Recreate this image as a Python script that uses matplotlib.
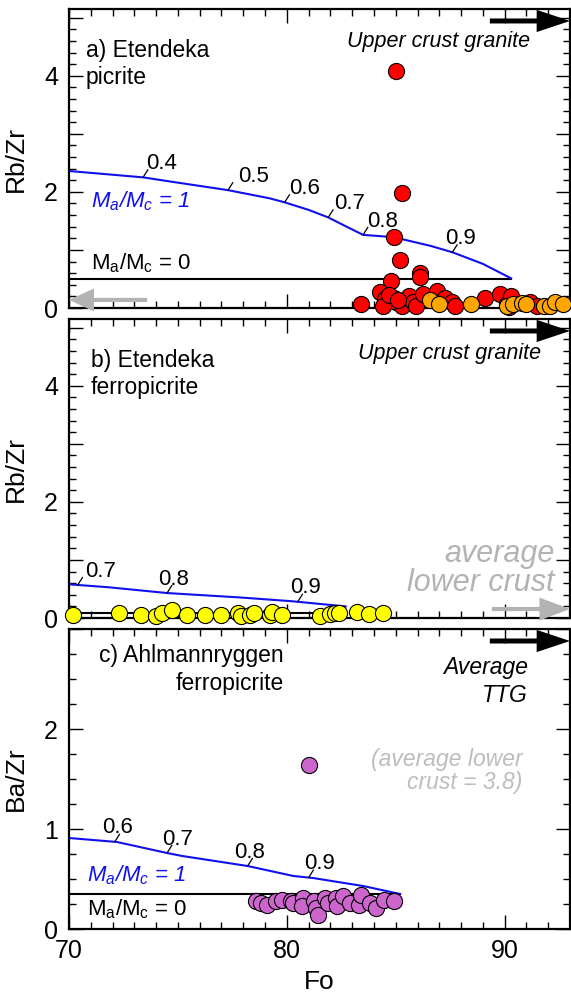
import numpy as np
import matplotlib
matplotlib.use("Agg")
import matplotlib.pyplot as plt
from matplotlib.ticker import MultipleLocator, FuncFormatter

plt.rcParams["font.family"] = "Liberation Sans"
plt.rcParams["mathtext.fontset"] = "custom"
plt.rcParams["mathtext.rm"] = "Liberation Sans"
plt.rcParams["mathtext.it"] = "Liberation Sans:italic"

# ---------------- data ----------------
# a) Etendeka picrite  (Rb/Zr vs Fo)
fo_red_a = [83.4, 85.0, 85.3, 84.9, 85.2, 84.8, 86.1, 86.1, 84.3, 84.5, 84.9, 85.0,
            85.3, 85.6, 85.8, 85.95, 86.25, 86.9, 87.25, 87.6, 87.7, 84.4, 89.1,
            89.8, 90.1, 90.3, 91.15, 90.2, 91.5, 84.7, 85.1]
rbzr_red_a = [0.07, 4.08, 1.98, 1.23, 0.83, 0.47, 0.61, 0.54, 0.27, 0.15, 0.18, 0.10,
              0.04, 0.21, 0.10, 0.04, 0.24, 0.30, 0.18, 0.10, 0.04, 0.04, 0.17,
              0.24, 0.07, 0.21, 0.10, 0.02, 0.04, 0.22, 0.14]
fo_orange_a = [86.55, 87.0, 88.45, 90.1, 90.4, 90.8, 91.0, 91.8, 92.1, 92.3, 92.7]
rbzr_orange_a = [0.13, 0.07, 0.07, 0.04, 0.07, 0.09, 0.07, 0.04, 0.04, 0.10, 0.07]

fo_mix1_a = [70, 73.4, 74.8, 77.3, 79.2, 79.9, 81.0, 81.9, 82.8, 83.5, 84.9,
             86.6, 87.6, 89.0, 90.3]
rbzr_mix1_a = [2.36, 2.25, 2.17, 2.03, 1.89, 1.82, 1.69, 1.56, 1.39, 1.26, 1.22,
               1.07, 0.96, 0.76, 0.51]
fo_mix0_a = [70, 90.3]
rbzr_mix0_a = [0.50, 0.50]
frac_fo_a = [73.4, 77.3, 79.9, 81.9, 83.5, 87.6]
frac_lab_a = ["0.4", "0.5", "0.6", "0.7", "0.8", "0.9"]

# b) Etendeka ferropicrite
fo_yellow_b = [70.2, 72.3, 73.3, 74.0, 74.25, 74.75, 75.4, 76.25, 77.0, 77.75, 77.9,
               78.3, 78.5, 79.25, 79.3, 79.8, 81.5, 82.0, 82.2, 82.4, 83.2, 83.75, 84.4]
rbzr_yellow_b = [0.05, 0.09, 0.06, 0.03, 0.09, 0.13, 0.05, 0.06, 0.05, 0.09, 0.03,
                 0.05, 0.09, 0.06, 0.10, 0.05, 0.03, 0.07, 0.09, 0.09, 0.10, 0.07, 0.09]
fo_mix1_b = [70, 71.8, 74.5, 77.8, 80.2, 82.7]
rbzr_mix1_b = [0.58, 0.53, 0.43, 0.355, 0.29, 0.20]
fo_mix0_b = [70, 82.7]
rbzr_mix0_b = [0.09, 0.09]
frac_fo_b = [70.4, 74.5, 80.5]
frac_lab_b = ["0.7", "0.8", "0.9"]

# c) Ahlmannryggen ferropicrite  (Ba/Zr vs Fo)
fo_purple_c = [81.0, 78.6, 78.8, 79.1, 79.5, 79.8, 80.2, 80.3, 80.75, 80.7, 81.25,
               81.35, 81.45, 81.75, 81.9, 82.25, 82.3, 82.6, 82.9, 83.3, 83.4, 83.8,
               84.1, 84.45, 84.9]
bazr_purple_c = [1.64, 0.28, 0.26, 0.24, 0.28, 0.29, 0.28, 0.26, 0.31, 0.23, 0.28,
                 0.21, 0.14, 0.31, 0.26, 0.31, 0.23, 0.33, 0.26, 0.24, 0.34, 0.26,
                 0.21, 0.29, 0.28]
fo_mix1_c = [70, 72.2, 74.5, 75.2, 78.2, 80.3, 81.2, 83.5, 85.2]
bazr_mix1_c = [0.91, 0.87, 0.76, 0.73, 0.63, 0.53, 0.51, 0.43, 0.35]
fo_mix0_c = [70, 85.2]
bazr_mix0_c = [0.35, 0.35]
frac_fo_c = [72.1, 74.5, 78.2, 81.0]
frac_lab_c = ["0.6", "0.7", "0.8", "0.9"]

# horizontal text shift of each fraction label from its leader (points)
lab_dx_a = [12, 17, 13, 14, 13, 5]
lab_dx_b = [15, 4, 5]
lab_dx_c = [2, 7, 1, 7]

# ---------------- figure ----------------
fig = plt.figure(figsize=(5.71, 9.96), dpi=100)
L, W = 69 / 571, 501 / 571
ax_a = fig.add_axes([L, 1 - 308 / 996, W, 299 / 996])
ax_b = fig.add_axes([L, 1 - 618 / 996, W, 299 / 996])
ax_c = fig.add_axes([L, 1 - 929 / 996, W, 300 / 996])

blue = "#1010ee"
gray = "#b3b3b3"
msize = 135


def even_only(v, pos):
    return f"{v:.0f}" if abs(v) % 2 < 1e-6 and v < 5 else ""


def upto_two(v, pos):
    return f"{v:.0f}" if v < 2.5 else ""


def style_axis(ax, ymax, ymajor, yminor, fmt):
    ax.set_xlim(70, 93)
    ax.set_ylim(0, ymax)
    ax.xaxis.set_major_locator(MultipleLocator(10))
    ax.xaxis.set_minor_locator(MultipleLocator(1))
    ax.yaxis.set_major_locator(MultipleLocator(ymajor))
    ax.yaxis.set_minor_locator(MultipleLocator(yminor))
    ax.yaxis.set_major_formatter(FuncFormatter(fmt))
    ax.tick_params(which="both", direction="in", top=True, right=True, width=1.0,
                   labelsize=18)
    ax.tick_params(which="major", length=10)
    ax.tick_params(which="minor", length=5)
    ax.tick_params(axis="y", pad=8)
    ax.tick_params(axis="x", pad=7)
    for s in ax.spines.values():
        s.set_linewidth(1.6)


def fractions(ax, fo_curve, y_curve, fo_lab, labels, dxs):
    for f, lab, dx in zip(fo_lab, labels, dxs):
        yv = np.interp(f, fo_curve, y_curve)
        ax.annotate("", xy=(f, yv), xytext=(3.5, 5.5), textcoords="offset points",
                    arrowprops=dict(arrowstyle="-", lw=0.9, color="black",
                                    shrinkA=0, shrinkB=0))
        ax.annotate(lab, xy=(f, yv), xytext=(dx * 1.1, 6), textcoords="offset points",
                    ha="center", va="baseline", fontsize=16)


def arrow(ax, x0, x1, y, color, hl, hw, tw):
    ax.annotate("", xy=(x1, y), xytext=(x0, y), xycoords="axes fraction",
                annotation_clip=False,
                arrowprops=dict(arrowstyle=f"simple,head_length={hl},head_width={hw},tail_width={tw}",
                                mutation_scale=10, fc=color, ec="none",
                                shrinkA=0, shrinkB=0))


def mix_labels(ax, x, y1, y0):
    ax.text(x, y1, r"M$_{\mathit{a}}$/M$_{\mathit{c}}$ = 1", color=blue, style="italic",
            fontsize=16, va="baseline", ha="left")
    ax.text(x, y0, r"M$_{\mathrm{a}}$/M$_{\mathrm{c}}$ = 0", color="black",
            fontsize=16, va="baseline", ha="left")


# ---- panel a ----
ax = ax_a
style_axis(ax, 5.15, 1, 0.2, even_only)
ax.plot(fo_mix0_a, rbzr_mix0_a, color="black", lw=1.5, zorder=2)
ax.plot(fo_mix1_a, rbzr_mix1_a, color=blue, lw=1.5, zorder=2)
ax.scatter(fo_red_a, rbzr_red_a, s=msize, c="#ff0000", edgecolors="black",
           linewidths=0.8, zorder=3, clip_on=False)
ax.scatter(fo_orange_a, rbzr_orange_a, s=msize, c="#ffa500", edgecolors="black",
           linewidths=0.8, zorder=4, clip_on=False)
fractions(ax, fo_mix1_a, rbzr_mix1_a, frac_fo_a, frac_lab_a, lab_dx_a)
mix_labels(ax, 71.0, 1.73, 0.66)
ax.text(0.033, 0.9, "a) Etendeka\npicrite", transform=ax.transAxes, fontsize=16.5,
        va="top", ha="left", linespacing=1.25)
ax.text(0.92, 0.925, "Upper crust granite", transform=ax.transAxes, fontsize=15.5,
        style="italic", va="top", ha="right")
arrow(ax, 0.84, 1.0, 0.96, "black", 2.4, 1.6, 0.36)
arrow(ax, 0.156, 0.0, 0.027, gray, 1.8, 1.65, 0.3)
ax.set_ylabel("Rb/Zr", fontsize=19)
ax.yaxis.set_label_coords(-0.082, 0.5)
ax.set_xticklabels([])

# ---- panel b ----
ax = ax_b
style_axis(ax, 5.15, 1, 0.2, even_only)
ax.plot(fo_mix0_b, rbzr_mix0_b, color="black", lw=1.5, zorder=2)
ax.plot(fo_mix1_b, rbzr_mix1_b, color=blue, lw=1.5, zorder=2)
ax.scatter(fo_yellow_b, rbzr_yellow_b, s=msize, c="#ffff00", edgecolors="black",
           linewidths=0.8, zorder=3, clip_on=False)
fractions(ax, fo_mix1_b, rbzr_mix1_b, frac_fo_b, frac_lab_b, lab_dx_b)
ax.text(0.044, 0.9, "b) Etendeka\nferropicrite", transform=ax.transAxes, fontsize=16.5,
        va="top", ha="left", linespacing=1.25)
ax.text(0.942, 0.92, "Upper crust granite", transform=ax.transAxes, fontsize=15.5,
        style="italic", va="top", ha="right")
ax.text(0.969, 0.265, "average\nlower crust", transform=ax.transAxes, fontsize=22,
        style="italic", va="top", ha="right", color=gray, linespacing=0.95)
arrow(ax, 0.84, 1.0, 0.96, "black", 2.4, 1.6, 0.36)
arrow(ax, 0.844, 1.0, 0.03, gray, 2.2, 1.65, 0.3)
ax.set_ylabel("Rb/Zr", fontsize=19)
ax.yaxis.set_label_coords(-0.082, 0.5)
ax.set_xticklabels([])

# ---- panel c ----
ax = ax_c
style_axis(ax, 3.0, 1, 0.25, upto_two)
ax.plot(fo_mix0_c, bazr_mix0_c, color="black", lw=1.5, zorder=2)
ax.plot(fo_mix1_c, bazr_mix1_c, color=blue, lw=1.5, zorder=2)
ax.scatter(fo_purple_c, bazr_purple_c, s=msize, c="#cc66cc", edgecolors="black",
           linewidths=0.8, zorder=3)
fractions(ax, fo_mix1_c, bazr_mix1_c, frac_fo_c, frac_lab_c, lab_dx_c)
mix_labels(ax, 70.84, 0.477, 0.133)
ax.text(0.429, 0.95, "c) Ahlmannryggen\nferropicrite", transform=ax.transAxes,
        fontsize=16.5, va="top", ha="right", ma="right", linespacing=1.25)
ax.text(0.916, 0.91, "Average\nTTG", transform=ax.transAxes, fontsize=16.5,
        style="italic", va="top", ha="right", ma="right", linespacing=1.25)
ax.text(0.905, 0.605, "(average lower\ncrust = 3.8)", transform=ax.transAxes,
        fontsize=16.5, style="italic", va="top", ha="right", ma="right",
        color="#bdbdbd", linespacing=1.0)
arrow(ax, 0.84, 1.0, 0.96, "black", 2.4, 1.6, 0.36)
ax.set_ylabel("Ba/Zr", fontsize=19)
ax.yaxis.set_label_coords(-0.082, 0.5)
ax.set_xlabel("Fo", fontsize=19, labelpad=5)

fig.savefig("out.png", dpi=100)
